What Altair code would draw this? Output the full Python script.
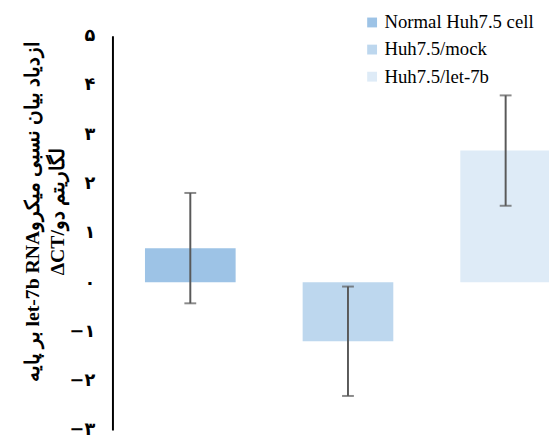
import altair as alt
import pandas as pd

categories = ["Normal Huh7.5 cell", "Huh7.5/mock", "Huh7.5/let-7b"]
values = [0.69, -1.20, 2.67]
errors = [1.12, 1.11, 1.12]
colors = ["#9DC3E6", "#BDD7EE", "#DEEBF7"]
tick_values = [-3, -2, -1, 0, 1, 2, 3, 4, 5]
tick_labels = ["−۳", "−۲", "−۱", "۰", "۱", "۲", "۳", "۴", "۵"]
title_lines = ["بر پایه let-7b RNAازدیاد بیان نسبی میکرو", "ΔCT/لگاریتم دو"]

df = pd.DataFrame({"cat": categories, "value": values, "err": errors})

label_expr = ""
for v, l in zip(tick_values, tick_labels):
    label_expr += f"datum.value == {v} ? '{l}' : "
label_expr += "''"

x_enc = alt.X("cat:N", sort=categories, axis=None,
              scale=alt.Scale(range=[-1, 479], paddingInner=0.425, paddingOuter=0.2125))
y_scale = alt.Scale(domain=[-3, 5], nice=False, zero=False)

base = alt.Chart(df).transform_calculate(
    lo="datum.value - datum.err", hi="datum.value + datum.err"
)

bars = base.mark_bar().encode(
    x=x_enc,
    y=alt.Y("value:Q", scale=y_scale, axis=alt.Axis(
        values=tick_values, labelExpr=label_expr, ticks=False, grid=False,
        domainColor="black", domainWidth=2,
        labelFont="DejaVu Sans", labelFontWeight="bold", labelFontSize=18,
        labelColor="black", labelPadding=18,
        title=title_lines, titleFont="Liberation Serif", titleFontSize=20,
        titleFontWeight="bold", titleColor="black", titleX=-81, titleY=178,
        titleAlign="center", titleBaseline="middle", titleLineHeight=25,
        titleAngle=270,
    )),
    y2=alt.datum(0),
    color=alt.Color("cat:N", sort=categories,
                    scale=alt.Scale(domain=categories, range=colors),
                    legend=alt.Legend(
                        title=None, orient="none", legendX=254, legendY=-23,
                        symbolType="square", symbolSize=100, symbolStrokeWidth=0,
                        labelFont="Liberation Serif", labelFontSize=19,
                        labelColor="black", rowPadding=7.5, padding=0,
                        labelOffset=3)),
)

rule = base.mark_rule(color="#595959", strokeWidth=2).encode(
    x=x_enc, y=alt.Y("lo:Q", scale=y_scale), y2="hi:Q"
)
cap_lo = base.mark_tick(orient="horizontal", size=12, thickness=2, color="#595959").encode(
    x=x_enc, y=alt.Y("lo:Q", scale=y_scale)
)
cap_hi = base.mark_tick(orient="horizontal", size=12, thickness=2, color="#595959").encode(
    x=x_enc, y=alt.Y("hi:Q", scale=y_scale)
)

chart = alt.layer(bars, rule, cap_lo, cap_hi).properties(
    width=443, height=400,
    autosize=alt.AutoSizeParams(type="none"),
    padding={"left": 106, "top": 25, "right": 0, "bottom": 6},
).configure_view(strokeWidth=0).configure_legend(labelFont="Liberation Serif")

chart.save("out.html", embed_options={"renderer": "svg", "actions": False})
